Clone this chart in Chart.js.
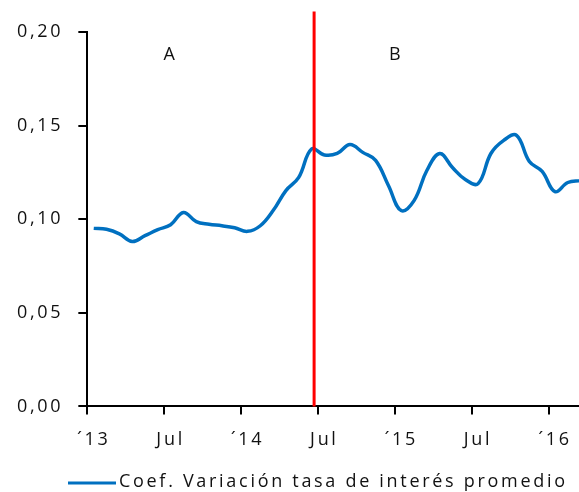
<!DOCTYPE html>
<html>
<head>
<meta charset="utf-8">
<script src="https://cdn.jsdelivr.net/npm/chart.js@4.4.1/dist/chart.umd.min.js"></script>
<style>
    html, body { margin: 0; padding: 0; background: #fff; overflow: hidden; }
    #wrap { width: 600px; height: 492px; }
</style>
</head>
<body>
<div id="wrap"><canvas id="canvas-1" width="600" height="492"></canvas></div>
<script>
// monthly categories, Jan 2013 - Mar 2016
var months = [
    'Ene-13', 'Feb-13', 'Mar-13', 'Abr-13', 'May-13', 'Jun-13', 'Jul-13', 'Ago-13', 'Sep-13', 'Oct-13', 'Nov-13', 'Dic-13',
    'Ene-14', 'Feb-14', 'Mar-14', 'Abr-14', 'May-14', 'Jun-14', 'Jul-14', 'Ago-14', 'Sep-14', 'Oct-14', 'Nov-14', 'Dic-14',
    'Ene-15', 'Feb-15', 'Mar-15', 'Abr-15', 'May-15', 'Jun-15', 'Jul-15', 'Ago-15', 'Sep-15', 'Oct-15', 'Nov-15', 'Dic-15',
    'Ene-16', 'Feb-16', 'Mar-16'
];
var coefVar = [
    0.0951, 0.0946, 0.0922, 0.0881, 0.0912, 0.0944, 0.0970, 0.1036, 0.0987, 0.0973, 0.0965, 0.0954,
    0.0935, 0.0965, 0.1046, 0.1153, 0.1223, 0.1375, 0.1343, 0.1351, 0.1399, 0.1357, 0.1314, 0.1180,
    0.1046, 0.1099, 0.1260, 0.1351, 0.1276, 0.1212, 0.1190, 0.1351, 0.1421, 0.1448, 0.1308, 0.1255,
    0.1147, 0.1196, 0.1206
];
// only Jan / Jul get a label and a tick mark
var tickLabels = {
    'Ene-13': '´13', 'Jul-13': 'Jul', 'Ene-14': '´14', 'Jul-14': 'Jul',
    'Ene-15': '´15', 'Jul-15': 'Jul', 'Ene-16': '´16'
};
var seriesName = 'Coef. Variación tasa de interés promedio';

// period split (mid June 2014) and period names
var breakPos = 17.2;
var periods = ['A', 'B'];
var periodPos = [6, 23.6];
var periodY = 0.188;

var blue = '#0070C0';
var textColor = '#111';
var spacing = '2.7px';

Chart.defaults.font.family = "'Open Sans', sans-serif";
Chart.defaults.color = textColor;

// wide letter spacing for every canvas text
var letterSpacing = {
    id: 'letterSpacing',
    beforeLayout: function (chart) { chart.ctx.letterSpacing = spacing; },
    beforeDraw: function (chart) { chart.ctx.letterSpacing = spacing; }
};

var extras = {
    id: 'extras',
    afterDatasetsDraw: function (chart) {
        var ctx = chart.ctx;
        var x = chart.scales.x, y = chart.scales.y;
        ctx.save();
        ctx.letterSpacing = spacing;

        // red split line
        var px = x.getPixelForValue(breakPos);
        ctx.strokeStyle = '#ff0000';
        ctx.lineWidth = 3;
        ctx.beginPath();
        ctx.moveTo(px, y.getPixelForValue(0.211));
        ctx.lineTo(px, y.bottom);
        ctx.stroke();

        // A / B
        ctx.fillStyle = textColor;
        ctx.font = "18px 'Open Sans', sans-serif";
        ctx.textAlign = 'center';
        ctx.textBaseline = 'middle';
        for (var i = 0; i < periods.length; i++) {
            ctx.fillText(periods[i], x.getPixelForValue(periodPos[i]), y.getPixelForValue(periodY));
        }

        // legend
        ctx.strokeStyle = blue;
        ctx.lineWidth = 3;
        ctx.beginPath();
        ctx.moveTo(68, 483);
        ctx.lineTo(116, 483);
        ctx.stroke();
        ctx.textAlign = 'left';
        ctx.font = "18px 'Open Sans', sans-serif";
        ctx.fillText(seriesName, 119, 482);
        ctx.restore();
    }
};

var ctx = document.getElementById('canvas-1');
var chart = new Chart(ctx, {
    type: 'line',
    data: {
        labels: months,
        datasets: [{
            label: seriesName,
            data: coefVar,
            borderColor: blue,
            borderWidth: 3.5,
            pointRadius: 0,
            tension: 0.4,
            fill: false
        }]
    },
    options: {
        responsive: false,
        animation: false,
        layout: { padding: { top: 32, left: 2, right: 13, bottom: 26 } },
        plugins: {
            legend: { display: false },
            tooltip: { enabled: false }
        },
        scales: {
            x: {
                offset: true,
                border: { display: true, color: '#000', width: 2 },
                grid: {
                    offset: true,
                    drawOnChartArea: false,
                    tickLength: 8,
                    lineWidth: 2,
                    color: function (c) {
                        return tickLabels[months[c.index]] ? '#000' : 'rgba(0,0,0,0)';
                    }
                },
                ticks: {
                    autoSkip: false,
                    maxRotation: 0,
                    padding: 15,
                    font: { size: 18 },
                    callback: function (v, i) { return tickLabels[months[i]] || ''; }
                }
            },
            y: {
                min: 0,
                max: 0.20,
                border: { display: true, color: '#000', width: 2 },
                grid: { drawOnChartArea: false, tickLength: 9, lineWidth: 2, color: '#000' },
                ticks: {
                    stepSize: 0.05,
                    padding: 15,
                    font: { size: 18 },
                    callback: function (v) { return v.toFixed(2).replace('.', ','); }
                }
            }
        }
    },
    plugins: [letterSpacing, extras]
});
</script>
</body>
</html>
